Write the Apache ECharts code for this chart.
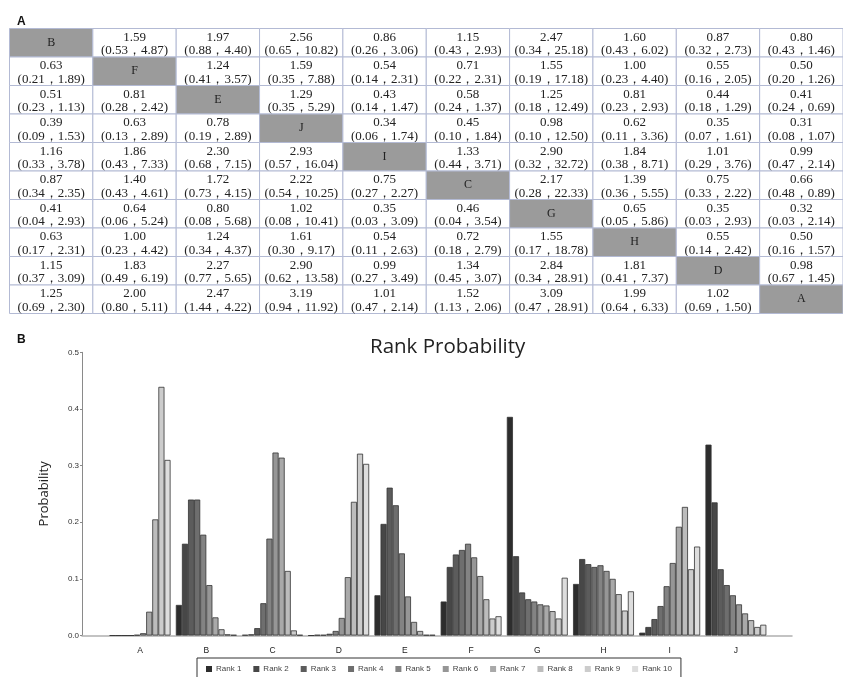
<!DOCTYPE html>
<html>
<head>
<meta charset="utf-8">
<script src="https://cdn.jsdelivr.net/npm/echarts@6/dist/echarts.min.js"></script>
<style>html,body{margin:0;padding:0;background:#fff;}#main{width:843px;height:677px;}</style>
</head>
<body>
<div id="main"></div>
<script>
// ---------- Panel A: league table ----------
const diagLabels = ['B','F','E','J','I','C','G','H','D','A'];
const orEst = [
  [null,1.59,1.97,2.56,0.86,1.15,2.47,1.60,0.87,0.80],
  [0.63,null,1.24,1.59,0.54,0.71,1.55,1.00,0.55,0.50],
  [0.51,0.81,null,1.29,0.43,0.58,1.25,0.81,0.44,0.41],
  [0.39,0.63,0.78,null,0.34,0.45,0.98,0.62,0.35,0.31],
  [1.16,1.86,2.30,2.93,null,1.33,2.90,1.84,1.01,0.99],
  [0.87,1.40,1.72,2.22,0.75,null,2.17,1.39,0.75,0.66],
  [0.41,0.64,0.80,1.02,0.35,0.46,null,0.65,0.35,0.32],
  [0.63,1.00,1.24,1.61,0.54,0.72,1.55,null,0.55,0.50],
  [1.15,1.83,2.27,2.90,0.99,1.34,2.84,1.81,null,0.98],
  [1.25,2.00,2.47,3.19,1.01,1.52,3.09,1.99,1.02,null]
];
const orLow = [
  [null,0.53,0.88,0.65,0.26,0.43,0.34,0.43,0.32,0.43],
  [0.21,null,0.41,0.35,0.14,0.22,0.19,0.23,0.16,0.20],
  [0.23,0.28,null,0.35,0.14,0.24,0.18,0.23,0.18,0.24],
  [0.09,0.13,0.19,null,0.06,0.10,0.10,0.11,0.07,0.08],
  [0.33,0.43,0.68,0.57,null,0.44,0.32,0.38,0.29,0.47],
  [0.34,0.43,0.73,0.54,0.27,null,0.28,0.36,0.33,0.48],
  [0.04,0.06,0.08,0.08,0.03,0.04,null,0.05,0.03,0.03],
  [0.17,0.23,0.34,0.30,0.11,0.18,0.17,null,0.14,0.16],
  [0.37,0.49,0.77,0.62,0.27,0.45,0.34,0.41,null,0.67],
  [0.69,0.80,1.44,0.94,0.47,1.13,0.47,0.64,0.69,null]
];
const orHigh = [
  [null,4.87,4.40,10.82,3.06,2.93,25.18,6.02,2.73,1.46],
  [1.89,null,3.57,7.88,2.31,2.31,17.18,4.40,2.05,1.26],
  [1.13,2.42,null,5.29,1.47,1.37,12.49,2.93,1.29,0.69],
  [1.53,2.89,2.89,null,1.74,1.84,12.50,3.36,1.61,1.07],
  [3.78,7.33,7.15,16.04,null,3.71,32.72,8.71,3.76,2.14],
  [2.35,4.61,4.15,10.25,2.27,null,22.33,5.55,2.22,0.89],
  [2.93,5.24,5.68,10.41,3.09,3.54,null,5.86,2.93,2.14],
  [2.31,4.42,4.37,9.17,2.63,2.79,18.78,null,2.42,1.57],
  [3.09,6.19,5.65,13.58,3.49,3.07,28.91,7.37,null,1.45],
  [2.30,5.11,4.22,11.92,2.14,2.06,28.91,6.33,1.50,null]
];

// ---------- Panel B: rank probabilities ----------
const teams = ['A','B','C','D','E','F','G','H','I','J'];
const rankNames = ['Rank 1','Rank 2','Rank 3','Rank 4','Rank 5','Rank 6','Rank 7','Rank 8','Rank 9','Rank 10'];
const probA = [0.000,0.000,0.000,0.000,0.001,0.004,0.042,0.205,0.439,0.310];
const probB = [0.054,0.162,0.240,0.240,0.178,0.089,0.032,0.011,0.002,0.001];
const probC = [0.001,0.002,0.013,0.057,0.171,0.323,0.314,0.114,0.009,0.001];
const probD = [0.000,0.001,0.001,0.003,0.008,0.031,0.103,0.236,0.321,0.303];
const probE = [0.071,0.197,0.261,0.230,0.145,0.069,0.024,0.008,0.001,0.001];
const probF = [0.060,0.121,0.143,0.151,0.162,0.138,0.105,0.064,0.030,0.034];
const probG = [0.386,0.140,0.076,0.064,0.060,0.055,0.053,0.043,0.030,0.102];
const probH = [0.091,0.135,0.126,0.121,0.124,0.114,0.100,0.073,0.044,0.078];
const probI = [0.005,0.015,0.029,0.052,0.087,0.128,0.192,0.227,0.117,0.157];
const probJ = [0.337,0.235,0.117,0.089,0.071,0.055,0.039,0.027,0.015,0.019];
const yTicks = [0, 0.1, 0.2, 0.3, 0.4, 0.5];

const rankColors = ['#2d2d2d','#474747','#5c5c5c','#6e6e6e','#838383','#969696','#a9a9a9','#bcbcbc','#cccccc','#dddddd'];

const probByTeam = [probA,probB,probC,probD,probE,probF,probG,probH,probI,probJ];

const tableData = [];
for (let r = 0; r < 10; r++) {
  for (let c = 0; c < 10; c++) {
    tableData.push([c, r]);
  }
}
function cellText(c, r) {
  if (c === r) return diagLabels[r];
  return orEst[r][c].toFixed(2) + '\n(' + orLow[r][c].toFixed(2) + '，' + orHigh[r][c].toFixed(2) + ')';
}

const barSeries = rankNames.map((name, k) => ({
  name: name,
  type: 'bar',
  xAxisIndex: 1,
  yAxisIndex: 1,
  barGap: '0%',
  barCategoryGap: '8%',
  data: probByTeam.map(p => p[k]),
  itemStyle: { color: rankColors[k], borderColor: '#333', borderWidth: 0.8 },
  emphasis: { disabled: true },
  animation: false
}));

const chart = echarts.init(document.getElementById('main'), null, { renderer: 'canvas' });
chart.setOption({
  backgroundColor: '#fff',
  animation: false,
  title: [
    { text: 'A', left: 12, top: 11, textStyle: { fontFamily: 'Liberation Sans, Arial', fontSize: 12, fontWeight: 'bold', color: '#111' } },
    { text: 'B', left: 12, top: 329, textStyle: { fontFamily: 'Liberation Sans, Arial', fontSize: 12, fontWeight: 'bold', color: '#111' } },
    { text: 'Rank Probability', left: 365, top: 332, textStyle: { fontFamily: 'Open Sans', fontSize: 20.5, fontWeight: 'normal', color: '#222' } }
  ],
  legend: {
    data: rankNames,
    left: 197,
    top: 658,
    orient: 'horizontal',
    itemWidth: 6,
    itemHeight: 6,
    itemGap: 12,
    icon: 'rect',
    padding: [7, 9, 7, 9],
    borderColor: '#333',
    borderWidth: 1,
    selectedMode: false,
    itemStyle: { borderWidth: 0 },
    textStyle: { fontFamily: 'Liberation Sans, Arial', fontSize: 8, color: '#444', padding: [0, 0, 0, -1] }
  },
  grid: [
    { left: 9.5, top: 28.5, width: 840, height: 285 },
    { left: 107, top: 352.3, width: 662, height: 283.2 },
    { left: 82, top: 352.3, width: 710, height: 283.2 }
  ],
  xAxis: [
    { gridIndex: 0, type: 'category', data: [0,1,2,3,4,5,6,7,8,9], show: false },
    { gridIndex: 1, type: 'category', data: teams,
      axisLine: { show: false }, axisTick: { show: false },
      axisLabel: { fontFamily: 'Liberation Sans, Arial', fontSize: 8.5, color: '#222', margin: 11 } },
    { gridIndex: 2, type: 'value', min: 0, max: 1,
      axisLine: { show: true, lineStyle: { color: '#b0b0b0', width: 1.5 } },
      axisTick: { show: false }, axisLabel: { show: false }, splitLine: { show: false } }
  ],
  yAxis: [
    { gridIndex: 0, type: 'category', data: [0,1,2,3,4,5,6,7,8,9], inverse: true, show: false },
    { gridIndex: 1, type: 'value', min: 0, max: 0.5, show: false },
    { gridIndex: 2, type: 'value', min: 0, max: 0.5, interval: 0.1,
      axisLine: { show: true, lineStyle: { color: '#8a8a8a', width: 1 } },
      axisTick: { show: true, length: 2, lineStyle: { color: '#8a8a8a' } },
      axisLabel: { fontFamily: 'Liberation Sans, Arial', fontSize: 8, color: '#333', margin: 3,
        formatter: v => (yTicks.indexOf(Math.round(v * 10) / 10) >= 0 ? v.toFixed(1) : '') },
      splitLine: { show: false },
      name: 'Probability', nameLocation: 'middle', nameGap: 31,
      nameTextStyle: { fontFamily: 'Open Sans', fontSize: 13, color: '#222' } }
  ],
  series: [
    {
      type: 'custom',
      xAxisIndex: 0,
      yAxisIndex: 0,
      data: tableData,
      silent: true,
      animation: false,
      renderItem: function (params, api) {
        const c = api.value(0), r = api.value(1);
        const p = api.coord([c, r]);
        const s = api.size([1, 1]);
        const diag = c === r;
        return {
          type: 'group',
          children: [
            { type: 'rect',
              shape: { x: p[0] - s[0] / 2, y: p[1] - s[1] / 2, width: s[0], height: s[1] },
              style: { fill: diag ? '#9b9b9b' : '#ffffff', stroke: '#b3bad4', lineWidth: 1 } },
            { type: 'text',
              style: { text: cellText(c, r), x: p[0], y: p[1] + (diag ? 0 : 1.5),
                align: 'center', verticalAlign: 'middle',
                fontFamily: 'Liberation Serif', fontSize: diag ? 12 : 13, lineHeight: 13.5,
                fill: '#222' } }
          ]
        };
      }
    }
  ].concat(barSeries)
});
</script>
</body>
</html>
